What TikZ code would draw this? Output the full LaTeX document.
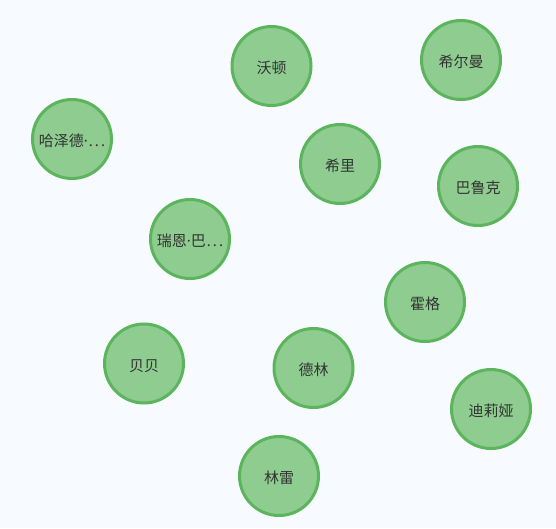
\documentclass[tikz,border=0pt]{standalone}
\usepackage{fontspec}
\setmainfont{Noto Sans CJK SC}
\newfontfamily\lat{Noto Sans}
\usepackage{tikz}
\definecolor{bg}{HTML}{F7FBFF}
\definecolor{nodefill}{HTML}{8ECC8F}
\definecolor{nodeline}{HTML}{5CB55D}
\definecolor{txt}{HTML}{333333}
\tikzstyle{p}=[circle,draw=nodeline,fill=nodefill,line width=3pt,minimum size=79pt,inner sep=0pt,text height=15pt,text depth=0pt,text=txt,font=\fontsize{15}{15}\selectfont]
\newcommand{\cut}{{\lat\kern1pt.\kern2pt.\kern2pt.}}

\begin{document}
\begin{tikzpicture}[x=1pt,y=-1pt]
\fill[bg] (0,0) rectangle (556,528);
\useasboundingbox (0,0) rectangle (556,528);

\node[p] (wo) at (271.5,66) {沃顿};
\node[p] (xe) at (461,60) {希尔曼};
\node[p] (ha) at (72,139) {哈泽德{\lat·}\cut};
\node[p] (xl) at (340,164) {希里};
\node[p] (ba) at (478,186) {巴鲁克};
\node[p] (ru) at (190,239) {瑞恩{\lat·}巴\cut};
\node[p] (ho) at (425,302) {霍格};
\node[p] (be) at (144,363.5) {贝贝};
\node[p] (de) at (313.5,368) {德林};
\node[p] (di) at (491,409) {迪莉娅};
\node[p] (li) at (279,476) {林雷};
\end{tikzpicture}
\end{document}
